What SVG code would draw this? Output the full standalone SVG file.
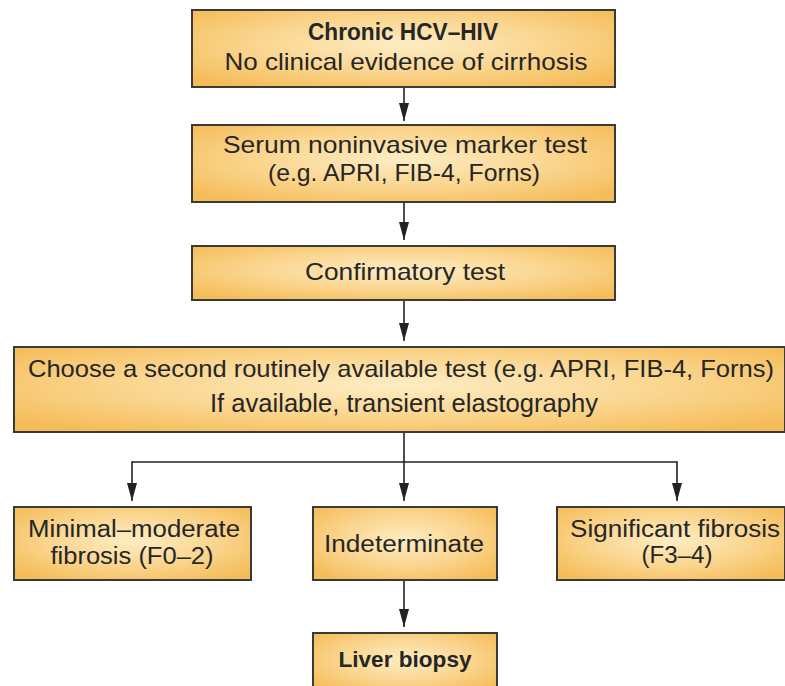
<svg xmlns="http://www.w3.org/2000/svg" width="785" height="686" viewBox="0 0 785 686">
<defs>
<radialGradient id="g" cx="0.5" cy="0.45" r="0.65">
<stop offset="0" stop-color="#fdedc4"/>
<stop offset="0.55" stop-color="#fad58e"/>
<stop offset="1" stop-color="#f5bd5a"/>
</radialGradient>
<marker id="ah" markerUnits="userSpaceOnUse" markerWidth="18" markerHeight="10" refX="18" refY="5" orient="auto" viewBox="0 0 18 10">
<path d="M0,0 L18,5 L0,10 Z" fill="#222"/>
</marker>
<style>
.box{fill:url(#g);stroke:#3a3a3a;stroke-width:2}
.t{font-family:"Liberation Sans",Arial,sans-serif;fill:#262626;text-anchor:middle}
.b{font-weight:bold}
.c{stroke:#222;stroke-width:1.6;fill:none}
</style>
</defs>
<rect width="785" height="686" fill="#ffffff"/>
<g id="connectors">
<line class="c" x1="404" y1="87" x2="404" y2="121" marker-end="url(#ah)"/>
<line class="c" x1="404" y1="202" x2="404" y2="240" marker-end="url(#ah)"/>
<line class="c" x1="404" y1="300" x2="404" y2="341" marker-end="url(#ah)"/>
<line class="c" x1="404" y1="432" x2="404" y2="501" marker-end="url(#ah)"/>
<line class="c" x1="132" y1="462" x2="677" y2="462"/>
<line class="c" x1="132" y1="461.2" x2="132" y2="501" marker-end="url(#ah)"/>
<line class="c" x1="677" y1="461.2" x2="677" y2="501" marker-end="url(#ah)"/>
<line class="c" x1="404" y1="580" x2="404" y2="627" marker-end="url(#ah)"/>
</g>
<g id="n1">
<rect class="box" x="192" y="10" width="423" height="77"/>
<text class="t b" x="403" y="40" font-size="23" textLength="190" lengthAdjust="spacingAndGlyphs">Chronic HCV–HIV</text>
<text class="t" x="406" y="70" font-size="24" textLength="363" lengthAdjust="spacingAndGlyphs">No clinical evidence of cirrhosis</text>
</g>
<g id="n2">
<rect class="box" x="192" y="125" width="423" height="77"/>
<text class="t" x="405" y="153" font-size="24" textLength="364" lengthAdjust="spacingAndGlyphs">Serum noninvasive marker test</text>
<text class="t" x="404" y="181" font-size="24" textLength="272" lengthAdjust="spacingAndGlyphs">(e.g. APRI, FIB-4, Forns)</text>
</g>
<g id="n3">
<rect class="box" x="192" y="246" width="423" height="54"/>
<text class="t" x="405" y="280" font-size="24" textLength="200" lengthAdjust="spacingAndGlyphs">Confirmatory test</text>
</g>
<g id="n4">
<rect class="box" x="14" y="347" width="771" height="85"/>
<text class="t" x="401" y="377" font-size="24" textLength="746" lengthAdjust="spacingAndGlyphs">Choose a second routinely available test (e.g. APRI, FIB-4, Forns)</text>
<text class="t" x="404" y="412" font-size="25" textLength="388" lengthAdjust="spacingAndGlyphs">If available, transient elastography</text>
</g>
<g id="n5">
<rect class="box" x="14" y="507" width="237" height="73"/>
<text class="t" x="134" y="537" font-size="23" textLength="212" lengthAdjust="spacingAndGlyphs">Minimal–moderate</text>
<text class="t" x="132" y="564" font-size="23" textLength="163" lengthAdjust="spacingAndGlyphs">fibrosis (F0–2)</text>
</g>
<g id="n6">
<rect class="box" x="313" y="507" width="184" height="73"/>
<text class="t" x="404" y="552" font-size="23" textLength="160" lengthAdjust="spacingAndGlyphs">Indeterminate</text>
</g>
<g id="n7">
<rect class="box" x="557" y="507" width="228" height="73"/>
<text class="t" x="675" y="537" font-size="23" textLength="210" lengthAdjust="spacingAndGlyphs">Significant fibrosis</text>
<text class="t" x="677" y="563" font-size="23" textLength="71" lengthAdjust="spacingAndGlyphs">(F3–4)</text>
</g>
<g id="n8">
<rect class="box" x="313" y="633" width="184" height="60"/>
<text class="t b" x="405" y="667" font-size="22" textLength="133" lengthAdjust="spacingAndGlyphs">Liver biopsy</text>
</g>
</svg>
